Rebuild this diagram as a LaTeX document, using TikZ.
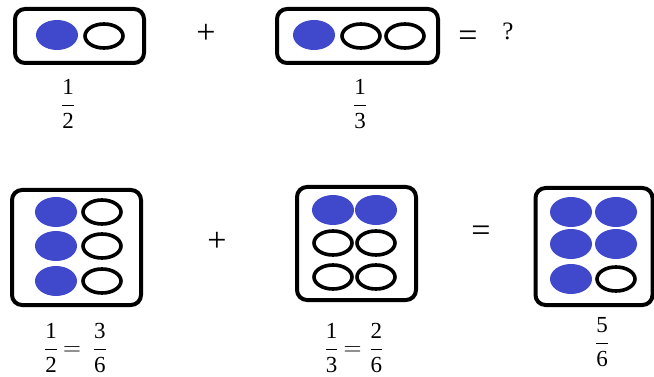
\documentclass[tikz,border=0pt]{standalone}
\usepackage{fontspec}
\setmainfont{Liberation Serif}
\usetikzlibrary{shapes.geometric}
\definecolor{dotblue}{RGB}{64,72,204}
\newcommand\fr[2]{$\displaystyle\frac{\mbox{#1}}{\mbox{#2}}$}
\tikzset{
  frame/.style={draw, rectangle, line width=4pt, rounded corners=10pt, inner sep=0pt},
  full/.style={ellipse, fill=dotblue, inner sep=0pt, minimum width=42pt, minimum height=30pt},
  hollow/.style={ellipse, draw, line width=3.6pt, inner sep=0pt, minimum width=38pt, minimum height=24pt},
  txt/.style={inner sep=0pt, font=\fontsize{23}{27}\selectfont},
  op/.style={inner sep=0pt, font=\fontsize{34}{38}\selectfont}
}
\begin{document}
\begin{tikzpicture}[x=1pt,y=-1pt]
\useasboundingbox (0,0) rectangle (654,377);
% top row
\node[frame, minimum width=129pt, minimum height=54pt] (b1) at (79.5,36) {};
\node[full] (b1a) at (57,35) {};
\node[hollow] (b1b) at (104,36) {};
\node[op] (p1) at (206,34) {+};
\node[txt] (f1) at (68,104) {\fr{1}{2}};

\node[frame, minimum width=161pt, minimum height=54pt] (b2) at (357.5,36) {};
\node[full] (b2a) at (314,35) {};
\node[hollow] (b2b) at (361,36) {};
\node[hollow] (b2c) at (405,36) {};
\node[op] (e1) at (468,39) {=};
\node[txt, font=\fontsize{25}{29}\selectfont] (q) at (508,31) {?};
\node[txt] (f2) at (360,104) {\fr{1}{3}};

% bottom row
\node[frame, minimum width=129pt, minimum height=115pt] (b3) at (76.5,247.5) {};
\node[full] (b3a) at (56,212) {};
\node[full] (b3b) at (56,246) {};
\node[full] (b3c) at (56,281) {};
\node[hollow] (b3d) at (102,212) {};
\node[hollow] (b3e) at (102,246) {};
\node[hollow] (b3f) at (102,281) {};
\node[op] (p2) at (217,242) {+};
\node[txt] (f3) at (75.5,348) {\fr{1}{2}\hspace{5pt}$=$\hspace{12pt}\fr{3}{6}};

\node[frame, minimum width=119pt, minimum height=113pt] (b4) at (356.5,243.5) {};
\node[full] (b4a) at (333,210) {};
\node[full] (b4b) at (376,210) {};
\node[hollow] (b4c) at (333,243) {};
\node[hollow] (b4d) at (376,243) {};
\node[hollow] (b4e) at (333,277) {};
\node[hollow] (b4f) at (376,277) {};
\node[op] (e2) at (481,234) {=};
\node[txt] (f4) at (354,348) {\fr{1}{3}\hspace{5pt}$=$\hspace{8pt}\fr{2}{6}};

\node[frame, minimum width=117pt, minimum height=117pt] (b5) at (594,246.5) {};
\node[full] (b5a) at (571,212) {};
\node[full] (b5b) at (616,212) {};
\node[full] (b5c) at (571,244) {};
\node[full] (b5d) at (616,244) {};
\node[full] (b5e) at (571,279) {};
\node[hollow] (b5f) at (616,279) {};
\node[txt] (f5) at (602,342) {\fr{5}{6}};
\end{tikzpicture}
\end{document}
